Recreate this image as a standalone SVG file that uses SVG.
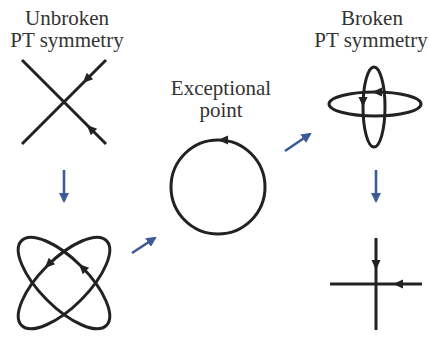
<svg xmlns="http://www.w3.org/2000/svg" width="430" height="338" viewBox="0 0 430 338">
<style>
.lbl{font-family:"Liberation Serif","Times New Roman",serif;font-size:21px;fill:#333;text-anchor:middle}
.curve{fill:none;stroke:#222;stroke-width:3}
.flow{fill:none;stroke:#3d5a98;stroke-width:2.6}
.head{fill:#222}
</style>
<defs>
<path id="ah" d="M3,0 L-7,-4.5 L-7,4.5 Z"/>
<marker id="blue" viewBox="0 0 10 10" refX="8" refY="5" markerWidth="4" markerHeight="4" orient="auto" markerUnits="strokeWidth">
<path d="M0,0 L10,5 L0,10 Z" fill="#3d5a98"/>
</marker>
</defs>
<rect width="430" height="338" fill="#fff"/>
<g id="unbroken">
<text class="lbl" x="67" y="25">Unbroken</text>
<text class="lbl" x="67" y="47">PT symmetry</text>
<line class="curve" x1="22" y1="60" x2="106" y2="144"/>
<line class="curve" x1="106" y1="60" x2="22" y2="144"/>
<use href="#ah" class="head" transform="translate(85,81) rotate(135)"/>
<use href="#ah" class="head" transform="translate(89,127) rotate(-135)"/>
</g>
<g id="lissajous">
<ellipse class="curve" cx="64" cy="283" rx="60" ry="24" transform="rotate(45 64 283)"/>
<ellipse class="curve" cx="64" cy="283" rx="60" ry="24" transform="rotate(-45 64 283)"/>
<use href="#ah" class="head" transform="translate(47,266) rotate(135)"/>
<use href="#ah" class="head" transform="translate(81,266) rotate(-135)"/>
</g>
<g id="exceptional">
<text class="lbl" x="221" y="95">Exceptional</text>
<text class="lbl" x="221" y="117">point</text>
<circle class="curve" cx="218" cy="187" r="47"/>
<use href="#ah" class="head" transform="translate(221,140) rotate(180)"/>
</g>
<g id="broken">
<text class="lbl" x="372" y="25">Broken</text>
<text class="lbl" x="371" y="47">PT symmetry</text>
<ellipse class="curve" cx="374" cy="107" rx="11" ry="40"/>
<ellipse class="curve" cx="375" cy="104" rx="46" ry="12"/>
<use href="#ah" class="head" transform="translate(375,92) rotate(180)"/>
<use href="#ah" class="head" transform="translate(363,104) rotate(90)"/>
</g>
<g id="cross">
<line class="curve" x1="376" y1="238" x2="376" y2="330"/>
<line class="curve" x1="330" y1="284" x2="422" y2="284"/>
<use href="#ah" class="head" transform="translate(376,267) rotate(90)"/>
<use href="#ah" class="head" transform="translate(396,284) rotate(180)"/>
</g>
<g id="connectors">
<line class="flow" x1="64" y1="170" x2="64" y2="201" marker-end="url(#blue)"/>
<line class="flow" x1="132" y1="253" x2="155" y2="238" marker-end="url(#blue)"/>
<line class="flow" x1="285" y1="151" x2="310" y2="134" marker-end="url(#blue)"/>
<line class="flow" x1="376" y1="170" x2="376" y2="201" marker-end="url(#blue)"/>
</g>
</svg>
